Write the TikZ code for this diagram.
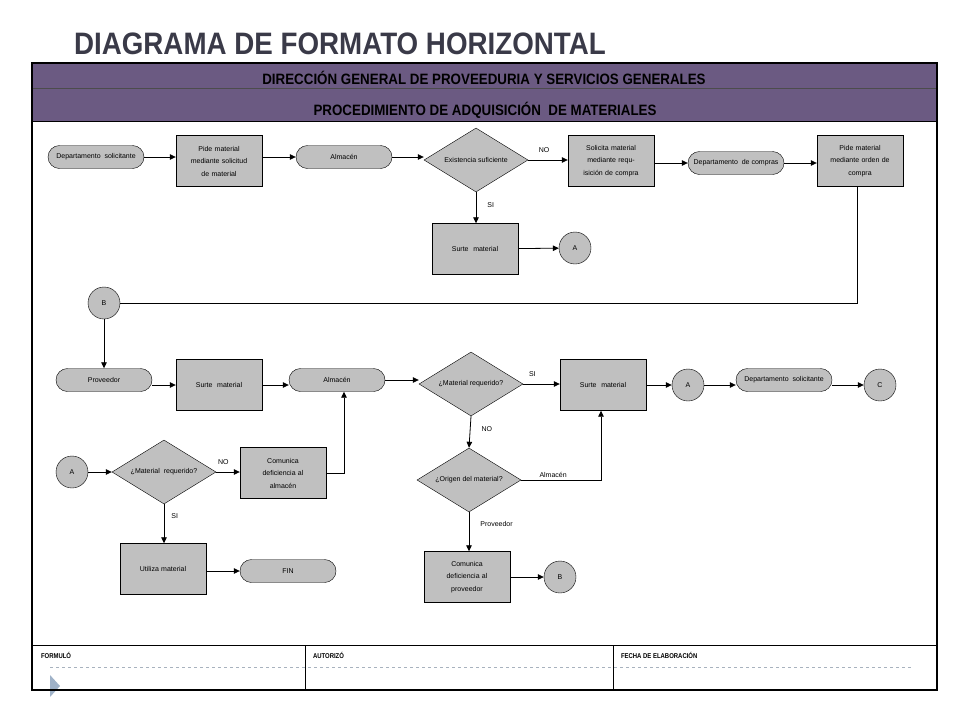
\documentclass[tikz,border=0pt]{standalone}
\usepackage{fontspec}
\setmainfont{Liberation Sans}
\usetikzlibrary{shapes.geometric,arrows.meta,calc}
\definecolor{band}{HTML}{6B5A82}
\definecolor{boxgray}{HTML}{C0C0C0}
\definecolor{titlegray}{HTML}{3A3A48}
\definecolor{dashgray}{HTML}{A8B2BE}
\definecolor{tri}{HTML}{9FB2C8}
\begin{document}
\begin{tikzpicture}[x=1pt,y=-1pt,
  every node/.style={font=\fontsize{7}{8}\selectfont, align=center, inner sep=1pt},
  proc/.style={draw, fill=boxgray, minimum width=86pt, minimum height=51pt, text width=82pt, font=\fontsize{7}{12.5}\selectfont},
  term/.style={draw, fill=boxgray, rounded corners=11.5pt, minimum width=96pt, minimum height=23pt},
  dec/.style={draw, fill=boxgray, diamond, shape aspect=1.6, minimum width=104pt, minimum height=64pt, inner sep=0pt},
  conn/.style={draw, fill=boxgray, circle, minimum size=32pt, inner sep=0pt},
  arr/.style={-{Triangle[length=6pt,width=5.5pt]}, line width=0.8pt},
  ln/.style={line width=0.8pt},
  lbl/.style={font=\fontsize{7}{8}\selectfont},
  hdr/.style={font=\fontsize{15}{17}\bfseries\selectfont, xscale=0.89}
]
\useasboundingbox (0,0) rectangle (960,720);
% title
\node[anchor=west, text=titlegray, font=\fontsize{31}{33}\bfseries\selectfont, xscale=0.895] (title) at (73,44) {DIAGRAMA DE FORMATO HORIZONTAL};
% header bands
\fill[band] (32,63) rectangle (937,121);
\draw[line width=0.6pt, black!70] (32,88) -- (937,88);
\draw[line width=1pt] (32,121) -- (937,121);
\node[hdr] (h1) at (484,78) {DIRECCIÓN GENERAL DE PROVEEDURIA Y SERVICIOS GENERALES};
\node[hdr] (h2) at (485,110) {PROCEDIMIENTO DE ADQUISICIÓN\ \ DE MATERIALES};
% footer
\draw[line width=1pt] (32,645) -- (937,645);
\draw[line width=0.8pt] (305,645) -- (305,690);
\draw[line width=0.8pt] (613,645) -- (613,690);
\draw[dashgray, dashed, line width=0.6pt] (50,667) -- (912,667);
\fill[tri] (50,675) -- (60,686) -- (50,697) -- cycle;
\node[anchor=west, font=\fontsize{7}{8}\bfseries\selectfont, xscale=0.85] (f1) at (40,655) {FORMULÓ};
\node[anchor=west, font=\fontsize{7}{8}\bfseries\selectfont, xscale=0.85] (f2) at (312,655) {AUTORIZÓ};
\node[anchor=west, font=\fontsize{7}{8}\bfseries\selectfont, xscale=0.85] (f3) at (620,655) {FECHA DE ELABORACIÓN};
% outer frame
\draw[line width=2.5pt] (32,63) rectangle (937,690);

% row 1
\node[term] (dep1) at (96,157) {Departamento\ \ solicitante};
\node[proc] (pide1) at (219,161) {Pide material\\mediante solicitud\\de material};
\node[term] (alm1) at (344,157) {Almacén};
\node[dec] (exist) at (476,160) {Existencia suficiente};
\node[proc] (solic) at (611,161) {Solicita material\\mediante requ-\\isición de compra};
\node[term] (depc) at (736,163) {Departamento\ \ de compras};
\node[proc] (pideo) at (860,161) {Pide material\\mediante orden de\\compra};
\node[proc] (surte1) at (475,249) {Surte\ \ material};
\node[conn] (A1) at (575,248) {A};
\node[conn] (B1) at (104,303) {B};

% row 2
\node[term] (prov) at (104,380) {Proveedor};
\node[proc] (surte2) at (219,385) {Surte\ \ material};
\node[term] (alm2) at (337,380) {Almacén};
\node[dec] (mreq) at (471,384) {¿Material requerido?};
\node[proc] (surte3) at (603,385) {Surte\ \ material};
\node[conn] (A2) at (688,385) {A};
\node[term] (dep2) at (784,380) {Departamento\ \ solicitante};
\node[conn] (C) at (880,385) {C};
\node[dec] (origen) at (469,480) {¿Origen del material?};
\node[proc] (com2) at (467,577) {Comunica\\deficiencia al\\proveedor};
\node[conn] (B2) at (560,577) {B};

% row 3 left
\node[conn] (A3) at (72,472) {A};
\node[dec] (mreq2) at (164,472) {¿Material\ \ requerido?};
\node[proc] (com1) at (283,473) {Comunica\\deficiencia al\\almacén};
\node[proc] (util) at (163,569) {Utiliza material};
\node[term] (fin) at (288,571) {FIN};

% connectors row 1
\draw[arr] (dep1) -- (dep1 -| pide1.west);
\draw[arr] (pide1.east |- alm1) -- (alm1);
\draw[arr] (alm1) -- (alm1 -| exist.west);
\draw[arr] (exist.east) -- (exist -| solic.west) node[lbl, pos=0.4, above=6pt] (lno1) {NO};
\draw[arr] (solic.east |- depc) -- (depc);
\draw[arr] (depc) -- (depc -| pideo.west);
\draw[arr] (exist.south) -- (surte1.north -| exist) node[lbl, pos=0.4, right=10pt] (lsi1) {SI};
\draw[arr] (surte1) -- (A1);
\coordinate (pd) at ([xshift=-3pt]pideo.south);
\draw[ln] (pd) -- (pd |- B1) -- (B1);

% connectors row 2
\draw[arr] (B1) -- (prov);
\draw[arr] (prov.east |- surte2) -- (surte2);
\draw[arr] (surte2) -- (surte2 -| alm2.west);
\draw[arr] (alm2) -- (alm2 -| mreq.west);
\draw[arr] (mreq.east) -- (mreq -| surte3.west) node[lbl, pos=0.25, above=6pt] (lsi2) {SI};
\draw[arr] (surte3) -- (A2);
\draw[arr] (A2) -- (A2 -| dep2.west);
\draw[arr] (dep2.east |- C) -- (C);
\draw[arr] (mreq.south) -- (origen.north) node[lbl, pos=0.4, right=10pt] (lno2) {NO};
\coordinate (sb) at ([xshift=-2pt]surte3.south);
\draw[arr] (origen.east) -- (origen.east -| sb) node[lbl, pos=0.4, above=1pt] (lalm) {Almacén} -- (sb);
\draw[arr] (origen.south) -- (com2.north -| origen) node[lbl, pos=0.3, right=10pt] (lprov) {Proveedor};
\draw[arr] (com2) -- (B2);

% connectors row 3
\draw[arr] (A3) -- (mreq2.west);
\draw[arr] (mreq2.east) -- (mreq2 -| com1.west) node[lbl, pos=0.3, above=6pt] (lno3) {NO};
\coordinate (ab) at ([xshift=7pt]alm2.south);
\draw[arr] (com1.east) -- (com1.east -| ab) -- (ab);
\draw[arr] (mreq2.south) -- (util.north -| mreq2) node[lbl, pos=0.3, right=6pt] (lsi3) {SI};
\draw[arr] (util.east |- fin) -- (fin);
\end{tikzpicture}
\end{document}
